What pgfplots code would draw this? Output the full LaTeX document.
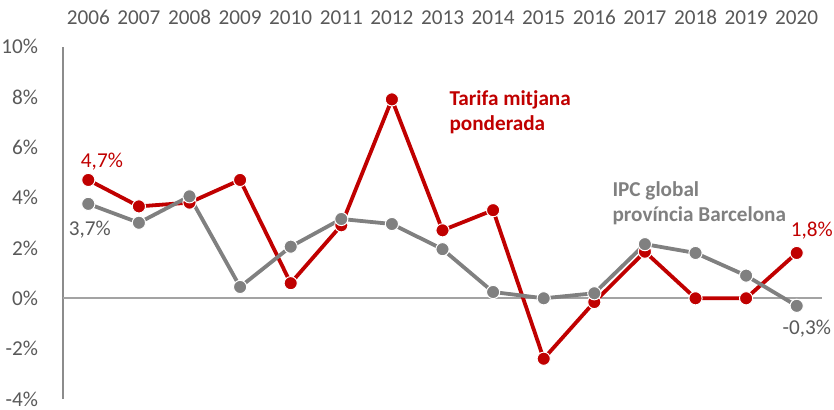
\documentclass[border=0pt]{standalone}
\usepackage{pgfplots}
\pgfplotsset{compat=1.18}
\usepackage{fontspec}
\setmainfont{Carlito}
\definecolor{cred}{HTML}{C00000}
\definecolor{cgray}{HTML}{808080}
\definecolor{ctext}{HTML}{595959}
\definecolor{caxis}{HTML}{8C8C8C}
\begin{document}
\begin{tikzpicture}
\useasboundingbox (-31.5pt,-5pt) rectangle (385.5pt,199.5pt);
\begin{axis}[
  at={(0,0)}, anchor=south west,
  scale only axis, width=379.5pt, height=176.25pt,
  xmin=2005.5, xmax=2020.5, ymin=-4, ymax=10,
  axis x line=none,
  axis y line=left,
  axis line style={caxis, line width=0.8pt, -},
  tick style={draw=none},
  font=\fontsize{10.6}{12.7}\selectfont,
  ytick={-4,-2,0,2,4,6,8,10},
  yticklabels={-4\%,-2\%,0\%,2\%,4\%,6\%,8\%,10\%},
  yticklabel style={text=ctext, xshift=-6.8pt},
  clip=false,
]
\addplot[draw=none, forget plot] coordinates {(2005.5,0) (2020.5,0)};
\draw[color=caxis!80, line width=0.8pt] (axis cs:2005.5,0) -- (axis cs:2020.5,0);
\foreach \yr in {2006,...,2020} {
  \edef\tmp{\noexpand\node[text=ctext, anchor=south, font=\noexpand\fontsize{10.6}{12.7}\noexpand\selectfont] at (axis cs:\yr,10) [yshift=7.5pt] {\yr};}
  \tmp
}
\addplot[cred, line width=1.9pt, mark=*, mark size=3.3pt, mark options={fill=cred, draw=white, line width=0.5pt}]
  coordinates {(2006,4.7) (2007,3.65) (2008,3.8) (2009,4.7) (2010,0.6) (2011,2.9) (2012,7.9) (2013,2.7) (2014,3.5) (2015,-2.4) (2016,-0.15) (2017,1.85) (2018,0) (2019,0) (2020,1.8)};
\addplot[cgray, line width=1.9pt, mark=*, mark size=3.3pt, mark options={fill=cgray, draw=white, line width=0.5pt}]
  coordinates {(2006,3.75) (2007,3.0) (2008,4.05) (2009,0.45) (2010,2.05) (2011,3.15) (2012,2.95) (2013,1.95) (2014,0.25) (2015,0.0) (2016,0.2) (2017,2.15) (2018,1.8) (2019,0.9) (2020,-0.3)};
\node[text=cred] at (axis cs:2006.27,5.44) {4,7\%};
\node[text=ctext] at (axis cs:2006.03,2.74) {3,7\%};
\node[text=cred] at (axis cs:2020.3,2.7) {1,8\%};
\node[text=ctext] at (axis cs:2020.2,-1.19) {-0,3\%};
\node[text=cred, font=\fontsize{10.6}{12.6}\selectfont\bfseries, align=left, anchor=west] at (axis cs:2013.0,7.38) {Tarifa mitjana\\ponderada};
\node[text=cgray, font=\fontsize{10.6}{12.6}\selectfont\bfseries, align=left, anchor=west] at (axis cs:2016.22,3.77) {IPC global\\província Barcelona};
\end{axis}
\end{tikzpicture}
\end{document}
